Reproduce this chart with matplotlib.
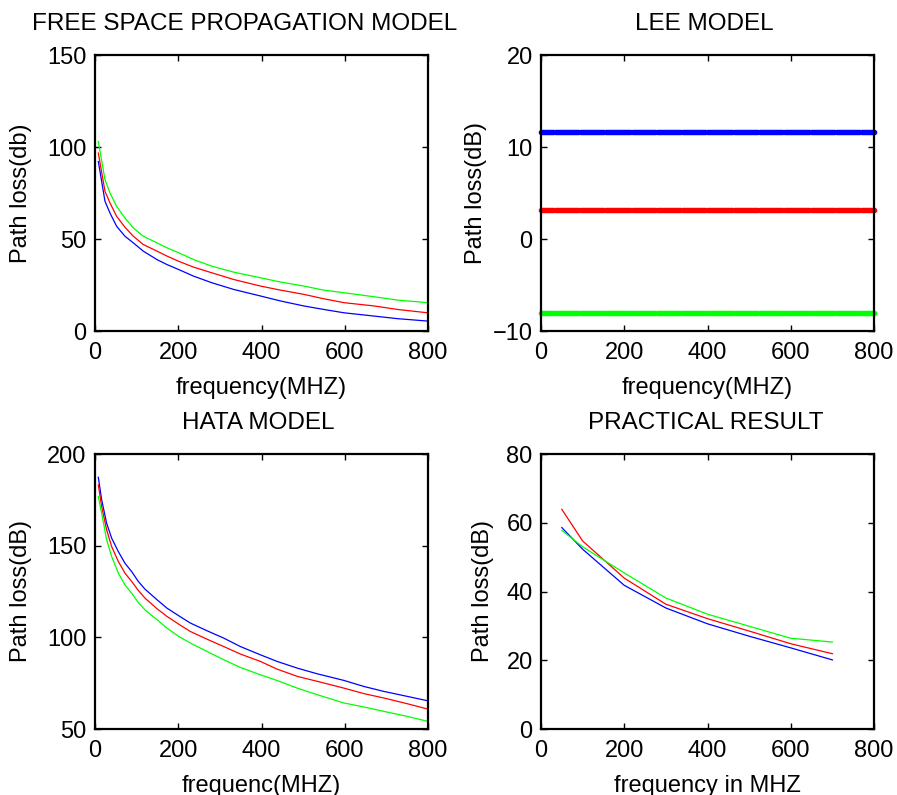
import numpy as np
import matplotlib
matplotlib.use("Agg")
import matplotlib.pyplot as plt

plt.rcParams['font.family'] = ['Liberation Sans', 'DejaVu Sans']

# ---- Free space propagation model ----
fs_freq = [8, 24, 36, 52, 72, 92, 116, 149, 173, 201, 237, 281, 333, 398, 446,
           502, 550, 598, 671, 727, 799]
fs_green = [103.0, 82.2, 75.0, 67.7, 61.4, 56.0, 51.5, 47.9, 45.2, 42.5, 38.8, 35.2,
            32.0, 28.9, 26.6, 24.4, 22.2, 20.8, 18.6, 16.8, 15.4]
fs_red = [96.7, 75.9, 69.6, 62.3, 56.4, 51.5, 47.0, 43.4, 40.7, 37.9, 34.7, 31.6,
          28.0, 24.4, 22.2, 19.9, 17.5, 15.4, 13.6, 11.7, 9.9]
fs_blue = [92.1, 70.5, 64.1, 56.9, 51.5, 47.9, 43.4, 38.8, 36.1, 33.4, 29.8, 26.2,
           22.6, 19.0, 16.3, 13.6, 11.7, 9.9, 8.1, 6.7, 5.4]

# ---- Lee model ----
lee_freq = np.arange(0, 801, 5)
lee_blue_level = 11.6
lee_red_level = 3.1
lee_green_level = -8.0

# ---- Hata model ----
hata_freq = [8, 16, 28, 40, 56, 72, 88, 104, 120, 149, 173, 201, 229, 269, 309,
             349, 397, 437, 486, 534, 598, 646, 694, 750, 799]
hata_blue = [187.3, 175.0, 162.2, 154.1, 146.8, 140.4, 135.9, 130.5, 126.3, 120.5,
             115.9, 111.8, 107.8, 103.6, 99.6, 95.0, 90.5, 86.9, 83.2, 80.1, 76.5,
             73.2, 70.5, 67.8, 65.4]
hata_red = [183.1, 171.3, 158.6, 149.5, 141.4, 135.0, 130.5, 125.6, 121.4, 115.6,
            111.4, 107.2, 103.2, 99.0, 95.0, 90.9, 86.9, 82.7, 78.7, 76.0, 72.3,
            69.3, 66.9, 63.8, 60.9]
hata_green = [176.8, 167.7, 153.2, 144.1, 135.0, 128.6, 124.1, 119.0, 115.0, 109.6,
              105.0, 100.5, 96.9, 92.3, 87.8, 83.6, 79.6, 76.5, 72.3, 68.7, 64.2,
              62.0, 59.6, 56.9, 54.2]

# ---- Practical result ----
pr_freq = [50, 100, 200, 300, 400, 500, 600, 700]
pr_red = [63.9, 54.7, 43.9, 36.3, 32.1, 28.5, 24.8, 21.9]
pr_blue = [58.6, 52.3, 41.8, 35.2, 30.6, 27.0, 23.6, 20.1]
pr_green = [57.8, 53.0, 45.4, 38.1, 33.4, 29.9, 26.4, 25.3]

BLUE = '#0000ff'
RED = '#ff0000'
GREEN = '#00ff00'

fig = plt.figure(figsize=(8.97, 7.95), dpi=100)
W, H = 897, 795


def make_ax(l, t, r, b):
    return fig.add_axes([l / W, 1 - b / H, (r - l) / W, (b - t) / H])


ax1 = make_ax(95, 55, 428, 331)
ax2 = make_ax(541, 55, 874, 331)
ax3 = make_ax(95, 454, 428, 729)
ax4 = make_ax(541, 454, 874, 729)

lw = 0.9
ax1.plot(fs_freq, fs_blue, color=BLUE, lw=lw)
ax1.plot(fs_freq, fs_red, color=RED, lw=lw)
ax1.plot(fs_freq, fs_green, color=GREEN, lw=lw)
ax1.set_xlim(0, 800)
ax1.set_ylim(0, 150)
ax1.set_yticks([0, 50, 100, 150])

for lvl, c in [(lee_blue_level, BLUE), (lee_red_level, RED), (lee_green_level, GREEN)]:
    ax2.plot(lee_freq, np.full(len(lee_freq), lvl), linestyle='none', marker='.',
             ms=6, color=c, clip_on=False)
ax2.set_xlim(0, 800)
ax2.set_ylim(-10, 20)
ax2.set_yticks([-10, 0, 10, 20])

ax3.plot(hata_freq, hata_blue, color=BLUE, lw=lw)
ax3.plot(hata_freq, hata_red, color=RED, lw=lw)
ax3.plot(hata_freq, hata_green, color=GREEN, lw=lw)
ax3.set_xlim(0, 800)
ax3.set_ylim(50, 200)
ax3.set_yticks([50, 100, 150, 200])

ax4.plot(pr_freq, pr_red, color=RED, lw=lw)
ax4.plot(pr_freq, pr_blue, color=BLUE, lw=lw)
ax4.plot(pr_freq, pr_green, color=GREEN, lw=lw)
ax4.set_xlim(0, 800)
ax4.set_ylim(0, 80)
ax4.set_yticks([0, 20, 40, 60, 80])

titles = ["FREE SPACE PROPAGATION MODEL", "LEE MODEL", "HATA MODEL", "PRACTICAL RESULT"]
title_x = [0.45, 0.49, 0.49, 0.495]
ylabels = ["Path loss(db)", "Path loss(dB)", "Path loss(dB)", "Path loss(dB)"]
ylabel_x = [-0.189, -0.162, -0.189, -0.141]
xlabels = ["frequency(MHZ)", "frequency(MHZ)", "frequenc(MHZ)", "frequency in MHZ"]

for ax, t, tx, yl, yx, xl in zip([ax1, ax2, ax3, ax4], titles, title_x, ylabels,
                                  ylabel_x, xlabels):
    ax.set_xticks([0, 200, 400, 600, 800])
    ax.set_title(t, fontsize=17.5, x=tx, pad=18)
    ax.set_ylabel(yl, fontsize=17)
    ax.yaxis.set_label_coords(yx, 0.5)
    ax.set_xlabel(xl, fontsize=17, labelpad=9)
    ax.tick_params(direction='in', top=True, right=True, length=4, width=1,
                   labelsize=17)
    ax.tick_params(axis='x', pad=8)
    ax.tick_params(axis='y', pad=6)
    for s in ax.spines.values():
        s.set_linewidth(1.6)

fig.savefig("out.png", dpi=100, facecolor='white')
